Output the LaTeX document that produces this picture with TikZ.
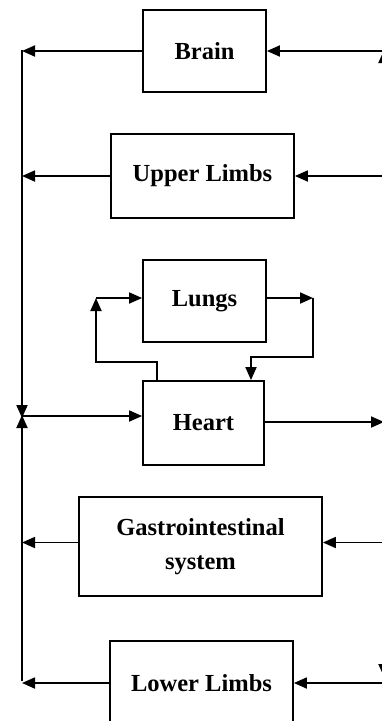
\documentclass[tikz,border=0pt]{standalone}
\usepackage{fontspec}
\setmainfont{Liberation Serif}
\usetikzlibrary{arrows.meta,positioning}

\begin{document}
\begin{tikzpicture}[x=1pt, y=-1pt, >={Triangle[length=13pt,width=11pt]}, line width=1.8pt,
  organ/.style={draw, line width=1.8pt, inner sep=0pt, font=\fontsize{24.5}{34}\selectfont\bfseries, align=center}]
  \useasboundingbox (0,0) rectangle (382,721);

  % Organs
  \node[organ, minimum width=123pt, minimum height=82pt] (brain) at (204.5,51) {Brain};
  \node[organ, minimum width=183pt, minimum height=84pt] (upper) at (202.5,176) {Upper Limbs};
  \node[organ, minimum width=123pt, minimum height=82pt] (lungs) at (204.5,301) {Lungs};
  \node[organ, minimum width=121pt, minimum height=84pt] (heart) at (203.5,423) {Heart};
  \node[organ, minimum width=243pt, minimum height=99pt] (gi) at (200.5,546.5) {Gastrointestinal\\system};
  \node[organ, minimum width=183pt, minimum height=84pt] (lower) at (201.5,683) {Lower Limbs};

  % Return and supply lines
  \coordinate (busTop) at (22,50);
  \coordinate (busMid) at (22,416);
  \coordinate (busBot) at (22,681);
  \coordinate (rBus) at (384,422);
  \coordinate (lungL) at (96,298);
  \coordinate (lungR) at (313,298);

  % Left side (veins)
  \draw[->] (busTop) -- ([yshift=-2pt]busMid);
  \draw[->] (busBot) -- ([yshift=1pt]busMid);
  \draw[->] (busMid) -- (busMid -| heart.west);
  \draw[->] (brain.west) -- (brain.west -| busTop);
  \draw[->] (upper.west) -- (upper.west -| busTop);
  \draw[->] ([yshift=4pt]gi.west) -- ([yshift=4pt]gi.west -| busTop);
  \draw[->] (lower.west) -- (lower.west -| busTop);

  % Right side (arteries)
  \draw[->] (heart.east |- rBus) -- (rBus);
  \draw[->] (rBus) -- (384,50);
  \draw[->] (rBus) -- (384,677);
  \draw[->] (brain.east -| rBus) -- (brain.east);
  \draw[->] (upper.east -| rBus) -- (upper.east);
  \draw[->] ([yshift=4pt]gi.east -| rBus) -- ([yshift=4pt]gi.east);
  \draw[->] (lower.east -| rBus) -- (lower.east);

  % Lung loop
  \draw[->] ([xshift=-46.5pt]heart.north) -- ++(0,-18) -| (lungL);
  \draw[->] (lungL) -- (lungL -| lungs.west);
  \draw[->] (lungs.east |- lungR) -- (lungR);
  \draw[->] (lungR) -- ++(0,59) -| ([xshift=47.5pt]heart.north);
\end{tikzpicture}
\end{document}
